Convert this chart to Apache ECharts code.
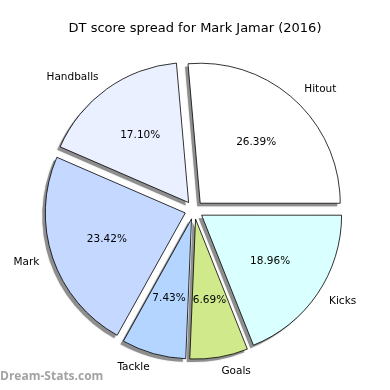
<!DOCTYPE html>
<html>
<head>
<meta charset="utf-8">
<script src="https://cdn.jsdelivr.net/npm/echarts@6/dist/echarts.min.js"></script>
<style>html,body{margin:0;padding:0;background:#fff}#c{width:390px;height:390px}</style>
</head>
<body>
<div id="c"></div>
<script>
const categories = ['Hitout', 'Kicks', 'Goals', 'Tackle', 'Mark', 'Handballs'];
const values = [26.39, 18.96, 6.69, 7.43, 23.42, 17.10];
const colors = ['#ffffff', '#d9ffff', '#d0e98a', '#b3d5ff', '#c5d8ff', '#eaf0ff'];

const chart = echarts.init(document.getElementById('c'), null, {renderer: 'canvas'});
const CX = 194, CY = 210, R = 140, OFF = 9.2;
const font = 'DejaVu Sans';

const mk = (extra) => categories.map((n, i) => Object.assign({name: n, value: values[i], selected: true}, extra ? extra(i) : {}));

const common = {
  type: 'pie', startAngle: 95, clockwise: true,
  selectedMode: 'multiple', selectedOffset: OFF,
  avoidLabelOverlap: false, silent: true,
  emphasis: {disabled: true}
};

chart.setOption({
  animation: false,
  title: {
    text: 'DT score spread for Mark Jamar (2016)',
    left: 'center', top: 17,
    textStyle: {fontFamily: font, fontSize: 13, fontWeight: 'normal', color: '#000'}
  },
  graphic: [{
    type: 'text', left: 0, top: 371,
    style: {text: 'Dream-Stats.com', font: 'bold 12px "Open Sans"', fill: '#a3a3a3'}
  }],
  series: [
    Object.assign({}, common, {
      center: [CX - 3, CY + 3], radius: [0, R], z: 1,
      itemStyle: {color: '#8e8e8e', borderWidth: 0, shadowColor: 'rgba(0,0,0,0.25)', shadowBlur: 1.5},
      label: {show: false}, labelLine: {show: false},
      data: mk()
    }),
    Object.assign({}, common, {
      center: [CX, CY], radius: [0, R], z: 2,
      itemStyle: {borderColor: '#000', borderWidth: 0.8},
      label: {
        show: true, position: 'outside', formatter: '{b}',
        fontFamily: font, fontSize: 10.5, color: '#000',
        distanceToLabelLine: 0
      },
      labelLine: {show: false, length: 14, length2: 0},
      data: mk(i => ({itemStyle: {color: colors[i]}}))
    }),
    Object.assign({}, common, {
      center: [CX, CY], radius: [0, R * 1.14], z: 5,
      itemStyle: {color: 'rgba(0,0,0,0)', borderWidth: 0},
      label: {
        show: true, position: 'inside',
        formatter: p => p.value.toFixed(2) + '%',
        fontFamily: font, fontSize: 10.5, color: '#000'
      },
      labelLine: {show: false},
      data: mk()
    })
  ]
});
</script>
</body>
</html>
